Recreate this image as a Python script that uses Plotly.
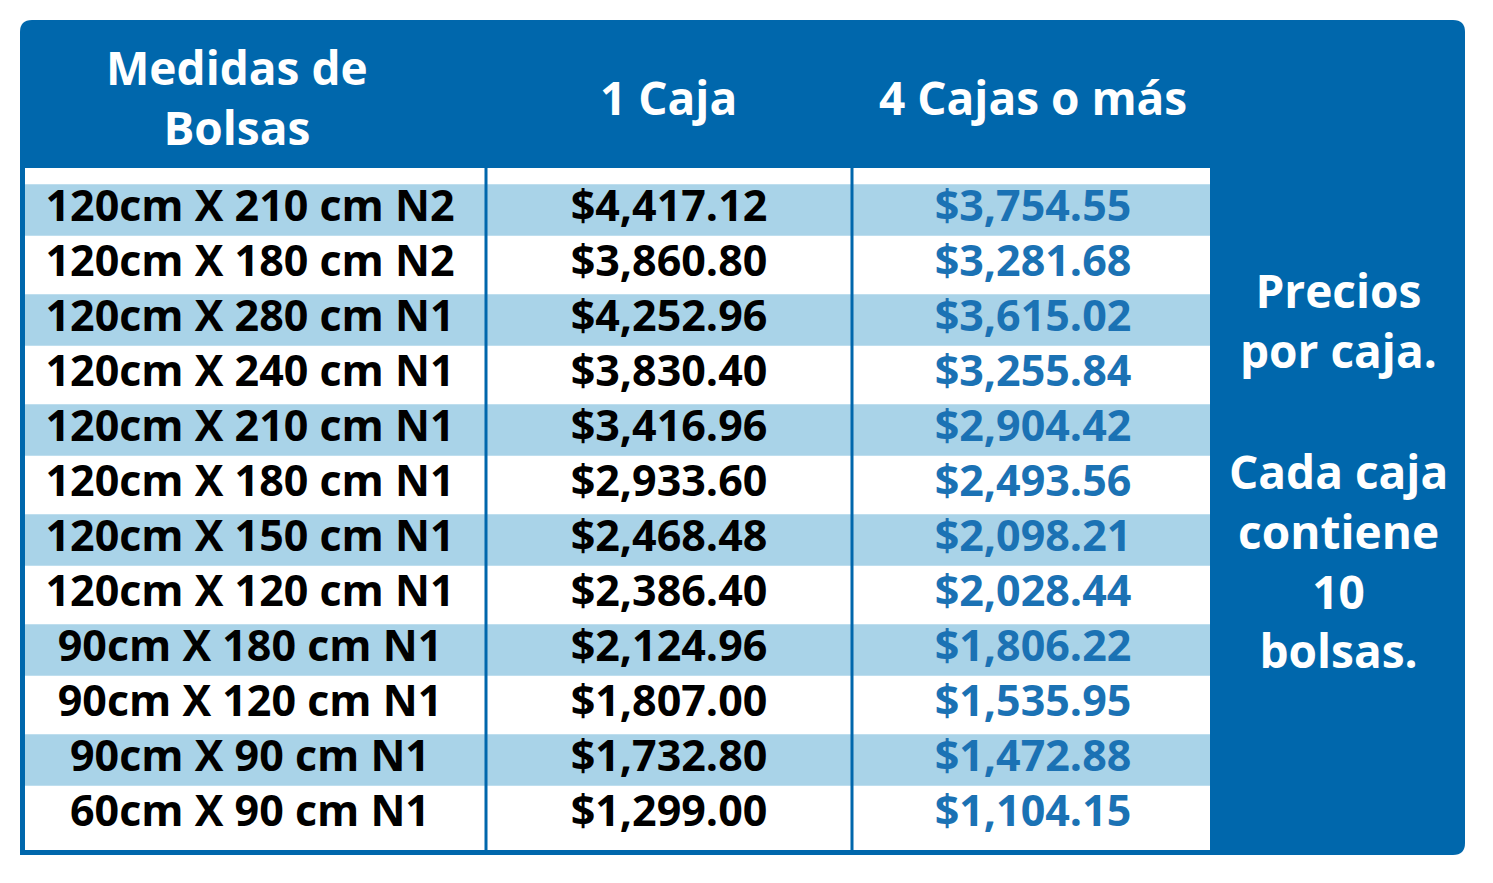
import plotly.graph_objects as go

medidas = ["120cm X 210 cm N2", "120cm X 180 cm N2", "120cm X 280 cm N1", "120cm X 240 cm N1",
           "120cm X 210 cm N1", "120cm X 180 cm N1", "120cm X 150 cm N1", "120cm X 120 cm N1",
           "90cm X 180 cm N1", "90cm X 120 cm N1", "90cm X 90 cm N1", "60cm X 90 cm N1"]
precio_1 = [4417.12, 3860.80, 4252.96, 3830.40, 3416.96, 2933.60, 2468.48, 2386.40,
            2124.96, 1807.00, 1732.80, 1299.00]
precio_4 = [3754.55, 3281.68, 3615.02, 3255.84, 2904.42, 2493.56, 2098.21, 2028.44,
            1806.22, 1535.95, 1472.88, 1104.15]
encabezados = ["Medidas de<br>Bolsas", "1 Caja", "4 Cajas o más"]
nota = ["Precios<br>por caja.", "Cada caja<br>contiene<br>10<br>bolsas."]

AZUL = "#0067AC"
CELESTE = "#A9D3E8"
AZUL_TXT = "#1B72B4"
FONT = "Open Sans"
W, H = 1493, 883
OFF = 8  # page body margin
# rows: center pixel = 210 + 55*i  -> y axis in row units
def py(p):
    return (p - 210) / 55
y_top = py(OFF)
y_bot = py(H + OFF)

fig = go.Figure()
n = len(medidas)
filas = list(range(n))
fig.add_trace(go.Scatter(x=[250] * n, y=filas, mode="text", text=medidas,
                         textfont=dict(family=FONT, size=43, color="black", weight="bold")))
fig.add_trace(go.Scatter(x=[669] * n, y=filas, mode="text", text=[f"${v:,.2f}" for v in precio_1],
                         textfont=dict(family=FONT, size=43, color="black", weight="bold")))
fig.add_trace(go.Scatter(x=[1033] * n, y=filas, mode="text", text=[f"${v:,.2f}" for v in precio_4],
                         textfont=dict(family=FONT, size=43, color=AZUL_TXT, weight="bold")))

shapes = [
    dict(type="path", path=f"M 32 {py(20)} L 1453 {py(20)} Q 1465 {py(20)} 1465 {py(32)} "
         f"L 1465 {py(843)} Q 1465 {py(855)} 1453 {py(855)} L 20 {py(855)} L 20 {py(32)} "
         f"Q 20 {py(20)} 32 {py(20)} Z", fillcolor=AZUL, line=dict(width=0), layer="below"),
    dict(type="rect", x0=25, x1=1210, y0=py(168), y1=py(850), fillcolor="white",
         line=dict(width=0), layer="below"),
]
for i in filas:
    if i % 2 == 0:
        shapes.append(dict(type="rect", x0=25, x1=1210, y0=i - 0.5 + 0.03, y1=i + 0.5 - 0.03,
                           fillcolor=CELESTE, line=dict(width=0), layer="below"))
for xd in (486, 852):
    shapes.append(dict(type="line", x0=xd, x1=xd, y0=py(166), y1=py(850),
                       line=dict(color=AZUL, width=3), layer="below"))

ann = []
for xc, t in zip([237, 668, 1033], encabezados):
    ann.append(dict(x=xc, y=py(97), text=t, showarrow=False,
                    font=dict(family=FONT, size=46, color="white", weight="bold")))
ann.append(dict(x=1338, y=py(320), text=nota[0], showarrow=False,
                font=dict(family=FONT, size=46, color="white", weight="bold")))
ann.append(dict(x=1338, y=py(560), text=nota[1], showarrow=False,
                font=dict(family=FONT, size=46, color="white", weight="bold")))

fig.update_layout(width=W, height=H, margin=dict(l=0, r=0, t=0, b=0),
                  paper_bgcolor="white", plot_bgcolor="white", showlegend=False,
                  shapes=shapes, annotations=ann,
                  xaxis=dict(range=[OFF, W + OFF], visible=False, fixedrange=True),
                  yaxis=dict(range=[y_bot, y_top], visible=False, fixedrange=True))
fig.write_html("out.html", config={"displayModeBar": False})
